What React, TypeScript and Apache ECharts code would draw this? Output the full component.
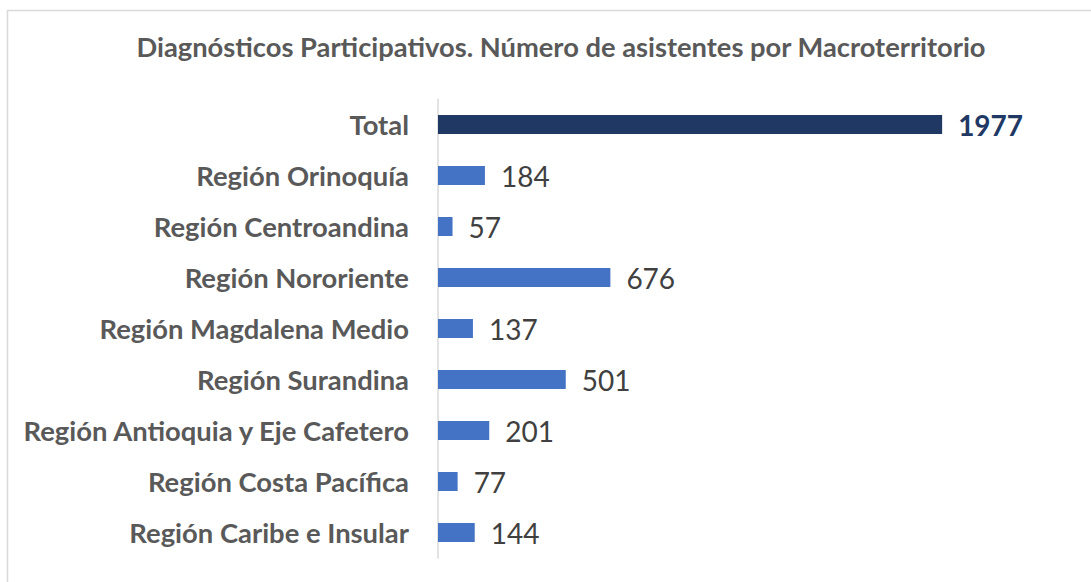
import React, { useEffect, useRef } from "react";
import * as echarts from "echarts";

const categories = [
  "Región Caribe e Insular",
  "Región Costa Pacífica",
  "Región Antioquia y Eje Cafetero",
  "Región Surandina",
  "Región Magdalena Medio",
  "Región Nororiente",
  "Región Centroandina",
  "Región Orinoquía",
  "Total",
];
const values = [144, 77, 201, 501, 137, 676, 57, 184, 1977];
const titleText = "Diagnósticos Participativos. Número de asistentes por Macroterritorio";

export default function App() {
  const ref = useRef<HTMLDivElement>(null);
  useEffect(() => {
    if (!ref.current) return;
    const chart = echarts.init(ref.current, null, { renderer: "svg" });
    const data = values.map((v, i) => {
      const isTotal = categories[i] === "Total";
      return {
        value: v,
        itemStyle: { color: isTotal ? "#203864" : "#4472c4" },
        label: isTotal
          ? { fontWeight: "bold", color: "#203864" }
          : { fontWeight: "normal", color: "#404040" },
      };
    });
    chart.setOption({
      animation: false,
      backgroundColor: "#ffffff",
      title: {
        text: titleText,
        left: 556,
        textAlign: "center",
        top: 28,
        textStyle: {
          fontFamily: "Lato",
          fontWeight: "bold",
          fontSize: 27.3,
          color: "#595959",
        },
      },
      graphic: [
        {
          type: "rect",
          shape: { x: 7.5, y: 10.5, width: 1200, height: 700 },
          style: { fill: "none", stroke: "#d9d9d9", lineWidth: 1.5 },
          silent: true,
        },
      ],
      grid: { left: 438, top: 99, bottom: 24, right: 143, containLabel: false },
      xAxis: {
        type: "value",
        min: 0,
        max: 2000,
        show: false,
        splitLine: { show: false },
      },
      yAxis: {
        type: "category",
        data: categories,
        axisLine: { show: true, lineStyle: { color: "#d9d9d9", width: 1.5 } },
        axisTick: { show: false },
        axisLabel: {
          margin: 29,
          fontFamily: "Lato",
          fontWeight: "bold",
          fontSize: 27.4,
          color: "#595959",
        },
      },
      series: [
        {
          type: "bar",
          data,
          barWidth: 19,
          label: {
            show: true,
            position: "right",
            distance: 16,
            fontFamily: "Lato",
            fontSize: 28,
          },
        },
      ],
    });
    return () => chart.dispose();
  }, []);
  return <div ref={ref} style={{ width: 1091, height: 582, position: "absolute", left: 0, top: 0 }} />;
}
